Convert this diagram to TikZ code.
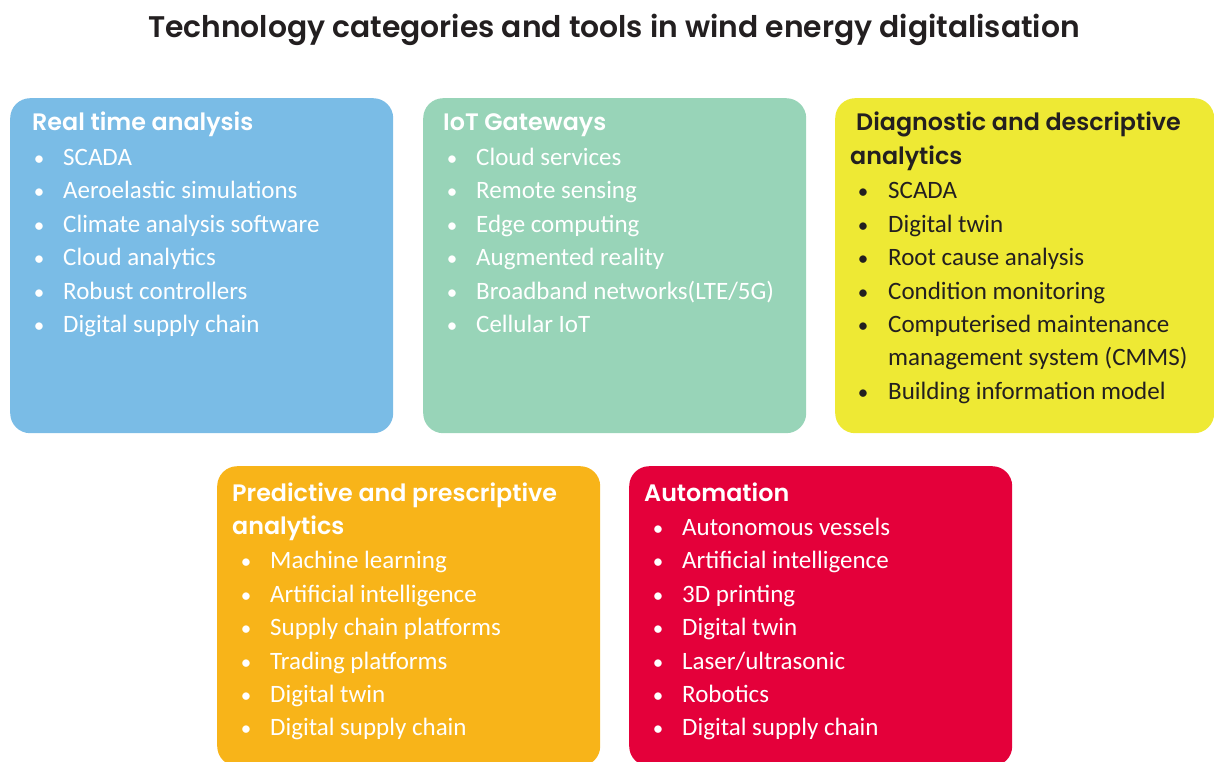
\documentclass[tikz,border=0pt]{standalone}
\usepackage{fontspec}
\setmainfont{Carlito}
\IfFontExistsTF{Poppins SemiBold}{\newfontfamily\boxfont{Poppins SemiBold}}{\newfontfamily\boxfont{Poppins}}
\usetikzlibrary{positioning,calc}
\definecolor{rtblue}{HTML}{7ABCE6}
\definecolor{iotgreen}{HTML}{98D4B8}
\definecolor{diagyellow}{HTML}{EEE934}
\definecolor{predorange}{HTML}{F8B419}
\definecolor{autored}{HTML}{E4003A}
\definecolor{inkdark}{HTML}{231F20}

\begin{document}
\begin{tikzpicture}[x=1pt, y=-1pt,
    panel/.style={fill=#1, rounded corners=20pt, inner sep=0, anchor=north west,
      minimum width=383pt, minimum height=335pt},
    heading/.style={anchor=base west, inner sep=0,
      font=\boxfont\fontsize{23.8}{23.8}\selectfont},
    entry/.style={anchor=base west, inner sep=0, font=\fontsize{25}{25}\selectfont},
    dot/.style={anchor=base, inner sep=0, font=\fontsize{21}{21}\selectfont}]
  \clip (0,0) rectangle (1214,762);

  \node[anchor=base, inner sep=0, text=inkdark,
    font=\boxfont\fontsize{29.8}{29.8}\selectfont] (title) at (614,38)
    {Technology categories and tools in wind energy digitalisation};

  % top row
  \node[panel=rtblue] (rt) at (10,98) {};
  \node[panel=iotgreen] (iot) at (423,98) {};
  \node[panel=diagyellow, minimum width=379pt] (diag) at (835,98) {};
  % bottom row
  \node[panel=predorange, minimum height=300pt] (pred) at (217,466) {};
  \node[panel=autored, minimum height=300pt] (auto) at (629,466) {};

  % real time analysis
  \node[heading, text=white] (rthead) at ($(rt.north west)+(22,33)$) {Real time analysis};
  \foreach \txt [count=\i] in {SCADA, Aeroelastic simulations, Climate analysis software,
      Cloud analytics, Robust controllers, Digital supply chain}{
    \node[dot, text=white] (rtdot\i) at ($(rt.north west)+(29,33.4*\i+34)$) {•};
    \node[entry, text=white] (rtitem\i) at ($(rt.north west)+(53,33.4*\i+34)$) {\txt};
  }

  % iot gateways
  \node[heading, text=white] (iothead) at ($(iot.north west)+(20,33)$) {IoT Gateways};
  \foreach \txt [count=\i] in {Cloud services, Remote sensing, Edge computing,
      Augmented reality, Broadband networks(LTE/5G), Cellular IoT}{
    \node[dot, text=white] (iotdot\i) at ($(iot.north west)+(29,33.4*\i+34)$) {•};
    \node[entry, text=white] (iotitem\i) at ($(iot.north west)+(53,33.4*\i+34)$) {\txt};
  }

  % diagnostic and descriptive analytics
  \node[heading, text=inkdark] (diaghead) at ($(diag.north west)+(21,33)$) {Diagnostic and descriptive};
  \node[heading, text=inkdark] (diaghead2) at ($(diag.north west)+(15,66.4)$) {analytics};
  \foreach \txt [count=\i] in {SCADA, Digital twin, Root cause analysis,
      Condition monitoring, Computerised maintenance}{
    \node[dot, text=inkdark] (diagdot\i) at ($(diag.north west)+(28,33.4*\i+67.4)$) {•};
    \node[entry, text=inkdark] (diagitem\i) at ($(diag.north west)+(53,33.4*\i+67.4)$) {\txt};
  }
  \node[entry, text=inkdark] (diagitem5b) at ($(diag.north west)+(53,33.4*6+67.4)$) {management system (CMMS)};
  \node[dot, text=inkdark] (diagdot6) at ($(diag.north west)+(28,33.4*7+67.4)$) {•};
  \node[entry, text=inkdark] (diagitem6) at ($(diag.north west)+(53,33.4*7+67.4)$) {Building information model};

  % predictive and prescriptive analytics
  \node[heading, text=white] (predhead) at ($(pred.north west)+(15,35)$) {Predictive and prescriptive};
  \node[heading, text=white] (predhead2) at ($(pred.north west)+(15,68.4)$) {analytics};
  \foreach \txt [count=\i] in {Machine learning, Artificial intelligence, Supply chain platforms,
      Trading platforms, Digital twin, Digital supply chain}{
    \node[dot, text=white] (preddot\i) at ($(pred.north west)+(29,33.4*\i+69.4)$) {•};
    \node[entry, text=white] (preditem\i) at ($(pred.north west)+(53,33.4*\i+69.4)$) {\txt};
  }

  % automation
  \node[heading, text=white] (autohead) at ($(auto.north west)+(15,35)$) {Automation};
  \foreach \txt [count=\i] in {Autonomous vessels, Artificial intelligence, 3D printing,
      Digital twin, Laser/ultrasonic, Robotics, Digital supply chain}{
    \node[dot, text=white] (autodot\i) at ($(auto.north west)+(29,33.4*\i+36)$) {•};
    \node[entry, text=white] (autoitem\i) at ($(auto.north west)+(53,33.4*\i+36)$) {\txt};
  }
\end{tikzpicture}
\end{document}
